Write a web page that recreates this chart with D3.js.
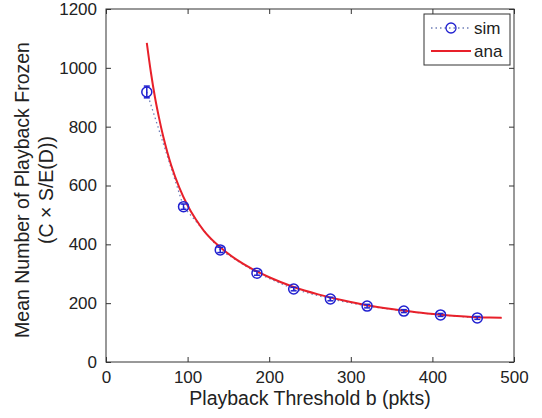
<!DOCTYPE html>
<html>
<head>
<meta charset="utf-8">
<script src="https://cdn.jsdelivr.net/npm/d3@7"></script>
<style>
  body { margin: 0; background: #fff; }
  text { font-family: "Liberation Sans", Arial, sans-serif; fill: #222; }
</style>
</head>
<body>
<div class="visHolder"></div>
<script>
const width = 542,
  height = 418;

const margin = { top: 9, right: 28, bottom: 56, left: 106 };

// simulation points
const simB = [50, 95, 140, 185, 230, 275, 320, 365, 410, 455];
const simMean = [918, 528, 381, 302, 248, 214, 190, 173, 160, 150];
const simErr = [20, 9, 9, 7, 6, 6, 6, 5, 5, 5];

// analytical curve
const anaB = [50, 55, 60, 65, 70, 75, 80, 90, 100, 110, 120, 140, 160, 180, 200, 230, 260, 290, 320, 350, 380, 410, 440, 470, 485];
const anaMean = [1085, 985, 900, 830, 768, 715, 668, 592, 532, 485, 446, 390, 348, 315, 288, 255, 230, 210, 193, 180, 169, 161, 155, 151, 150];

const xTicks = [0, 100, 200, 300, 400, 500];
const yTicks = [0, 200, 400, 600, 800, 1000, 1200];

const svg = d3
  .select(".visHolder")
  .append("svg")
  .attr("width", width)
  .attr("height", height);

const xScale = d3.scaleLinear().domain([0, 500]).range([margin.left, width - margin.right]);
const yScale = d3.scaleLinear().domain([0, 1200]).range([height - margin.bottom, margin.top]);

const x0 = margin.left,
  x1 = width - margin.right,
  y0 = height - margin.bottom,
  y1 = margin.top;

// box
svg
  .append("rect")
  .attr("x", x0)
  .attr("y", y1)
  .attr("width", x1 - x0)
  .attr("height", y0 - y1)
  .style("fill", "none")
  .style("stroke", "#333")
  .style("stroke-width", 1);

// axes with inward ticks
const xAxis = d3.axisBottom(xScale).tickValues(xTicks).tickFormat(d3.format("d")).tickSizeInner(-5).tickSizeOuter(0).tickPadding(9);
const yAxis = d3.axisLeft(yScale).tickValues(yTicks).tickFormat(d3.format("d")).tickSizeInner(-5).tickSizeOuter(0).tickPadding(9);

const gx = svg.append("g").attr("transform", "translate(0," + y0 + ")").call(xAxis);
const gy = svg.append("g").attr("transform", "translate(" + x0 + ",0)").call(yAxis);

svg
  .append("g")
  .attr("transform", "translate(0," + y1 + ")")
  .call(d3.axisTop(xScale).tickValues(xTicks).tickSizeInner(-5).tickSizeOuter(0).tickFormat(""));
svg
  .append("g")
  .attr("transform", "translate(" + x1 + ",0)")
  .call(d3.axisRight(yScale).tickValues(yTicks).tickSizeInner(-5).tickSizeOuter(0).tickFormat(""));

svg.selectAll(".domain").remove();
svg.selectAll(".tick line").style("stroke", "#333");
gx.selectAll("text").style("font-size", "17px").style("fill", "#222");
gy.selectAll("text").style("font-size", "17px").style("fill", "#222");

// axis labels
svg
  .append("text")
  .attr("x", (x0 + x1) / 2)
  .attr("y", 405)
  .attr("text-anchor", "middle")
  .style("font-size", "19.5px")
  .text("Playback Threshold b (pkts)");

const yl = svg
  .append("text")
  .attr("transform", "translate(29,190) rotate(-90)")
  .attr("text-anchor", "middle")
  .style("font-size", "19.5px");
yl.append("tspan").attr("x", 0).attr("dy", 0).text("Mean Number of Playback Frozen");
yl.append("tspan").attr("x", 0).attr("dy", 24).text("(C \u00d7 S/E(D))");

// sim dotted line
const line = d3
  .line()
  .x((d) => xScale(d[0]))
  .y((d) => yScale(d[1]));

svg
  .append("path")
  .datum(simB.map((b, i) => [b, simMean[i]]))
  .attr("d", line)
  .style("fill", "none")
  .style("stroke", "#6f7fb8")
  .style("stroke-width", 1.3)
  .style("stroke-dasharray", "1.5,3");

// ana line
svg
  .append("path")
  .datum(anaB.map((b, i) => [b, anaMean[i]]))
  .attr("d", d3.line().curve(d3.curveMonotoneX).x((d) => xScale(d[0])).y((d) => yScale(d[1])))
  .style("fill", "none")
  .style("stroke", "#e8202a")
  .style("stroke-width", 2);

// error bars
const eb = svg.selectAll(".err").data(simB).enter().append("g");
eb.append("line")
  .attr("x1", (d) => xScale(d))
  .attr("x2", (d) => xScale(d))
  .attr("y1", (d, i) => yScale(simMean[i] - simErr[i]))
  .attr("y2", (d, i) => yScale(simMean[i] + simErr[i]))
  .style("stroke", "#2020d0")
  .style("stroke-width", 1.5);
eb.append("line")
  .attr("x1", (d) => xScale(d) - 3)
  .attr("x2", (d) => xScale(d) + 3)
  .attr("y1", (d, i) => yScale(simMean[i] - simErr[i]))
  .attr("y2", (d, i) => yScale(simMean[i] - simErr[i]))
  .style("stroke", "#2020d0")
  .style("stroke-width", 1.5);
eb.append("line")
  .attr("x1", (d) => xScale(d) - 3)
  .attr("x2", (d) => xScale(d) + 3)
  .attr("y1", (d, i) => yScale(simMean[i] + simErr[i]))
  .attr("y2", (d, i) => yScale(simMean[i] + simErr[i]))
  .style("stroke", "#2020d0")
  .style("stroke-width", 1.5);

svg
  .selectAll("circle.sim")
  .data(simB)
  .enter()
  .append("circle")
  .attr("class", "sim")
  .attr("cx", (d) => xScale(d))
  .attr("cy", (d, i) => yScale(simMean[i]))
  .attr("r", 5)
  .style("fill", "none")
  .style("stroke", "#2020d0")
  .style("stroke-width", 1.5);

// legend
const legend = svg.append("g").attr("id", "legend");
legend
  .append("rect")
  .attr("x", 424)
  .attr("y", 14)
  .attr("width", 86)
  .attr("height", 51)
  .style("fill", "#fff")
  .style("stroke", "#333")
  .style("stroke-width", 1);

legend
  .append("line")
  .attr("x1", 431)
  .attr("x2", 471)
  .attr("y1", 28)
  .attr("y2", 28)
  .style("stroke", "#6f7fb8")
  .style("stroke-width", 1.3)
  .style("stroke-dasharray", "1.5,3");
legend
  .append("circle")
  .attr("cx", 451)
  .attr("cy", 28)
  .attr("r", 5)
  .style("fill", "none")
  .style("stroke", "#2020d0")
  .style("stroke-width", 1.3);
legend
  .append("line")
  .attr("x1", 431)
  .attr("x2", 471)
  .attr("y1", 51)
  .attr("y2", 51)
  .style("stroke", "#e8202a")
  .style("stroke-width", 2);

legend.append("text").attr("x", 474).attr("y", 34).style("font-size", "17px").text("sim");
legend.append("text").attr("x", 474).attr("y", 57).style("font-size", "17px").text("ana");
</script>
</body>
</html>
